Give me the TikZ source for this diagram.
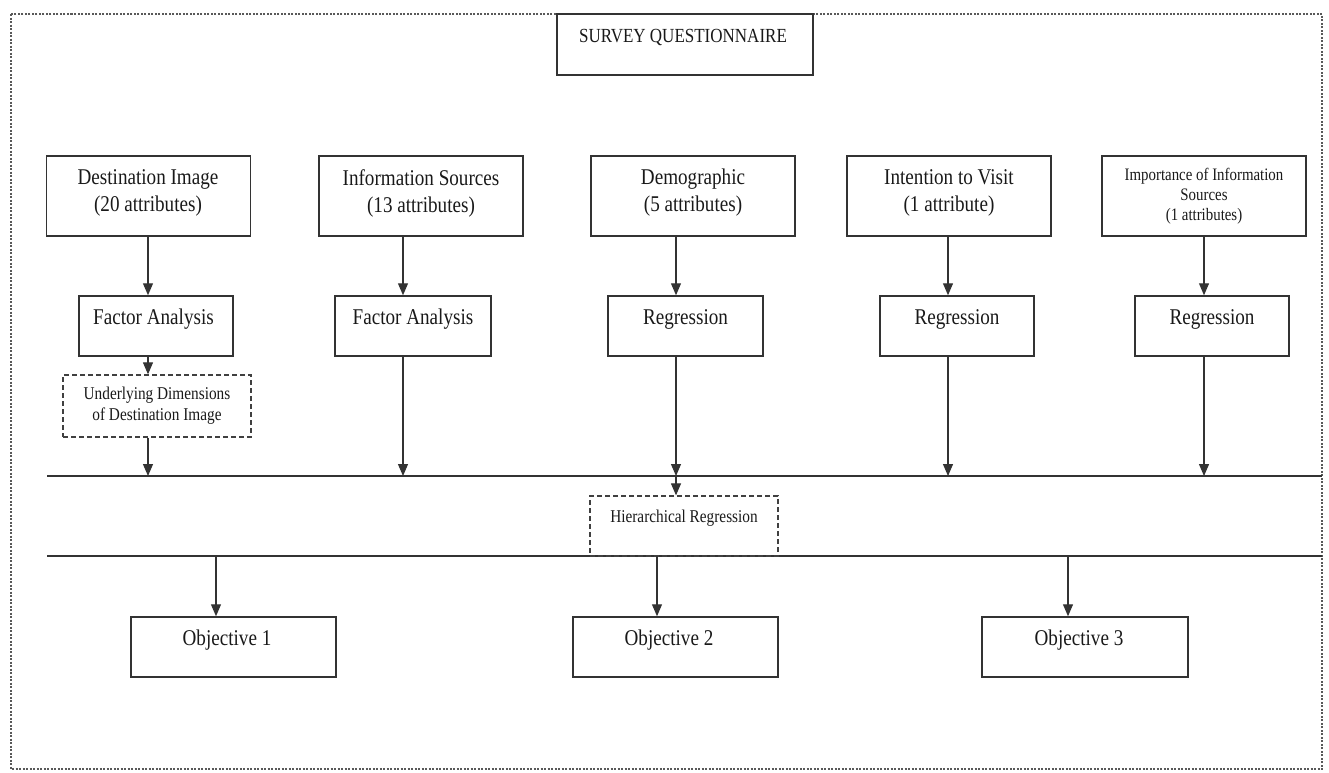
\documentclass[tikz,border=0pt]{standalone}
\usepackage{fontspec}
\setmainfont{Liberation Serif}[FakeStretch=0.85]
\usetikzlibrary{arrows.meta}
\tikzset{
  box/.style={draw=black!80, line width=1.5pt, rectangle, inner sep=0pt},
  dbox/.style={draw=black!75, line width=1.3pt, dash pattern=on 5pt off 3pt, rectangle, inner sep=0pt, align=center, text=black!90},
  lbl/.style={inner sep=0pt, align=center, text=black!90},
  big/.style={font=\fontsize{22.5}{27}\selectfont},
  small/.style={font=\fontsize{18}{21}\selectfont},
  arr/.style={draw=black!80, line width=1.2pt, -{Triangle[length=12pt,width=10pt]}},
  hline/.style={draw=black!80, line width=1.4pt},
  frame/.style={draw=black!65, line width=2pt, dash pattern=on 2pt off 1.5pt}
}
\begin{document}
\begin{tikzpicture}[x=1pt,y=-1pt]
\useasboundingbox (0,0) rectangle (1329,772);
\draw[frame] (11,14) rectangle (1322,769);

% survey box
\node[box, minimum width=256pt, minimum height=61pt] (sq) at (685,44.5) {};
\node[lbl, font=\fontsize{20}{24}\selectfont] (sqt) at (683,37) {SURVEY QUESTIONNAIRE};

% columns
\coordinate (c1) at (148,0);
\coordinate (c2) at (403,0);
\coordinate (c3) at (676,0);
\coordinate (c4) at (948,0);
\coordinate (c5) at (1204,0);

% row 1
\node[box, minimum width=204pt, minimum height=80pt] (a1) at (148.5,196) {};
\node[box, minimum width=204pt, minimum height=80pt] (a2) at (421,196) {};
\node[box, minimum width=204pt, minimum height=80pt] (a3) at (693,196) {};
\node[box, minimum width=204pt, minimum height=80pt] (a4) at (949,196) {};
\node[box, minimum width=204pt, minimum height=80pt] (a5) at (1204,196) {};
\node[lbl, big] (a1t) at (148,193) {Destination Image\\(20 attributes)};
\node[lbl, big] (a2t) at (421,193) {Information Sources\\(13 attributes)};
\node[lbl, big] (a3t) at (693,193) {Demographic\\(5 attributes)};
\node[lbl, big] (a4t) at (949,193) {Intention to Visit\\(1 attribute)};
\node[lbl, font=\fontsize{17.5}{20}\selectfont] (a5t) at (1204,196) {Importance of Information\\Sources\\(1 attributes)};

% row 2
\node[box, minimum width=154pt, minimum height=60pt] (b1) at (156,326) {};
\node[box, minimum width=156pt, minimum height=60pt] (b2) at (413,326) {};
\node[box, minimum width=155pt, minimum height=60pt] (b3) at (685.5,326) {};
\node[box, minimum width=154pt, minimum height=60pt] (b4) at (957,326) {};
\node[box, minimum width=154pt, minimum height=60pt] (b5) at (1212,326) {};
\node[lbl, big] (b1t) at (153.5,319) {Factor Analysis};
\node[lbl, big] (b2t) at (413,319) {Factor Analysis};
\node[lbl, big] (b3t) at (685.5,319) {Regression};
\node[lbl, big] (b4t) at (957,319) {Regression};
\node[lbl, big] (b5t) at (1212,319) {Regression};

% dashed box
\node[dbox, small, minimum width=188pt, minimum height=62pt] (ud) at (157,406) {Underlying Dimensions\\of Destination Image};

% horizontal lines
\coordinate (l1a) at (47,476);
\coordinate (l1b) at (1322,476);
\coordinate (l2a) at (47,556);
\coordinate (l2b) at (1322,556);
\draw[hline] (l1a) -- (l1b);
\draw[hline] (l2a) -- (l2b);

% hierarchical regression
\node[dbox, minimum width=188pt, minimum height=60pt] (hr) at (684,526) {};
\node[lbl, small] (hrt) at (684,518) {Hierarchical Regression};

% objectives
\node[box, minimum width=205pt, minimum height=60pt] (o1) at (233.5,647) {};
\node[box, minimum width=205pt, minimum height=60pt] (o2) at (675.5,647) {};
\node[box, minimum width=206pt, minimum height=60pt] (o3) at (1085,647) {};
\node[lbl, big] (o1t) at (227,640) {Objective 1};
\node[lbl, big] (o2t) at (669,640) {Objective 2};
\node[lbl, big] (o3t) at (1079,640) {Objective 3};
\coordinate (d1) at (216,0);
\coordinate (d2) at (657,0);
\coordinate (d3) at (1068,0);

% arrows row1 -> row2
\draw[arr] (a1.south -| c1) -- (b1.north -| c1);
\draw[arr] (a2.south -| c2) -- (b2.north -| c2);
\draw[arr] (a3.south -| c3) -- (b3.north -| c3);
\draw[arr] (a4.south -| c4) -- (b4.north -| c4);
\draw[arr] (a5.south -| c5) -- (b5.north -| c5);

% row2 -> line 1
\draw[arr] (b1.south -| c1) -- (ud.north -| c1);
\draw[arr] (ud.south -| c1) -- (l1a -| c1);
\draw[arr] (b2.south -| c2) -- (l1a -| c2);
\draw[arr] (b3.south -| c3) -- (l1a -| c3);
\draw[arr] (b4.south -| c4) -- (l1a -| c4);
\draw[arr] (b5.south -| c5) -- (l1a -| c5);

% line 1 -> HR
\draw[arr] (l1a -| c3) -- (hr.north -| c3);

% line 2 -> objectives
\draw[arr] (l2a -| d1) -- (o1.north -| d1);
\draw[arr] (l2a -| d2) -- (o2.north -| d2);
\draw[arr] (l2a -| d3) -- (o3.north -| d3);
\end{tikzpicture}
\end{document}
